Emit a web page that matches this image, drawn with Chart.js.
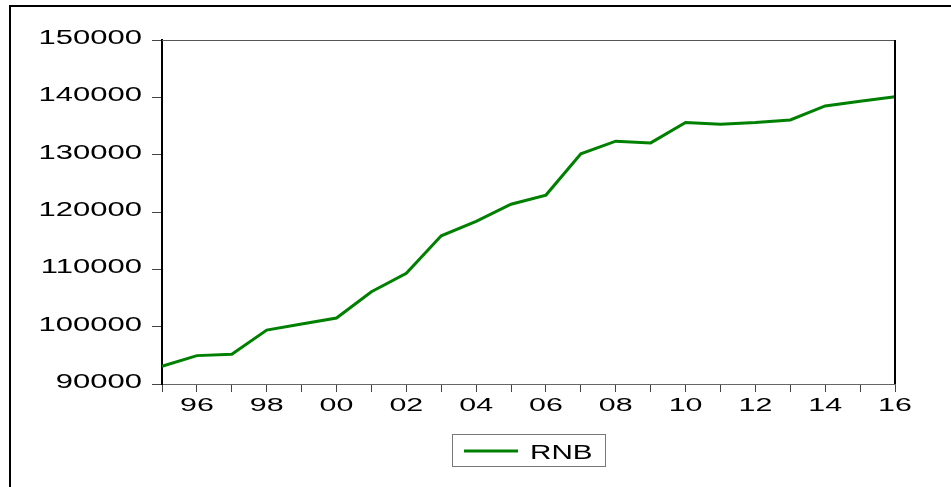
<!DOCTYPE html>
<html>
<head>
<meta charset="utf-8">
<title>RNB</title>
<script src="https://cdn.jsdelivr.net/npm/chart.js@4.4.1/dist/chart.umd.min.js"></script>
<style>
  html, body { margin: 0; padding: 0; background: #fff; }
  #chart { display: block; }
</style>
</head>
<body>
<canvas id="chart" width="951" height="487"></canvas>
<script>
// annees 1995-2016
const years = ['1995', '1996', '1997', '1998', '1999', '2000', '2001', '2002', '2003', '2004', '2005',
               '2006', '2007', '2008', '2009', '2010', '2011', '2012', '2013', '2014', '2015', '2016'];
const rnb = [93100, 94950, 95200, 99400, 100450, 101500, 106100, 109300, 115850, 118350, 121350,
             122950, 130150, 132350, 132050, 135600, 135300, 135600, 136050, 138500, 139300, 140100];
const seriesName = 'RNB';
const yMin = 90000;
const yMax = 150000;
const yStep = 10000;

const FONT = "'Liberation Sans', Arial, sans-serif";

// texte etire horizontalement, comme le graphique d'origine
function stretchText(ctx, text, x, y, align, size, sx) {
    ctx.save();
    ctx.translate(x, y);
    ctx.scale(sx, 1);
    ctx.font = size + 'px ' + FONT;
    ctx.fillStyle = '#000';
    ctx.textAlign = align;
    ctx.textBaseline = 'alphabetic';
    ctx.fillText(text, 0, 0);
    ctx.restore();
}

const decorPlugin = {
    id: 'decor',
    afterDraw(chart) {
        const ctx = chart.ctx;
        const area = chart.chartArea;
        const xs = chart.scales.x;
        const ys = chart.scales.y;

        // cadre du graphique
        ctx.save();
        ctx.fillStyle = '#555';
        ctx.fillRect(area.left, area.top, area.right - area.left, 1);
        ctx.fillStyle = '#000';
        ctx.fillRect(area.right - 1, area.top, 2, area.bottom - area.top);
        // cadre exterieur
        ctx.fillRect(9, 5, chart.width - 9, 2);
        ctx.fillRect(9, 5, 2, chart.height - 5);
        ctx.restore();

        // etiquettes Y
        ys.ticks.forEach(t => {
            const py = ys.getPixelForValue(t.value);
            stretchText(ctx, String(t.value), 142, py + 4, 'right', 20, 1.55);
        });

        // etiquettes X (une annee sur deux)
        xs.ticks.forEach((t, i) => {
            const yr = parseInt(years[t.value], 10);
            if (yr % 2 !== 0) return;
            const px = xs.getPixelForTick(i);
            stretchText(ctx, String(yr % 100).padStart(2, '0'), px, 411, 'center', 19, 1.6);
        });

        // legende
        const ds = chart.data.datasets[0];
        ctx.save();
        ctx.strokeStyle = '#777';
        ctx.lineWidth = 1;
        ctx.strokeRect(452.5, 434.5, 153, 32);
        ctx.strokeStyle = ds.borderColor;
        ctx.lineWidth = 3;
        ctx.beginPath();
        ctx.moveTo(464, 451);
        ctx.lineTo(518, 451);
        ctx.stroke();
        ctx.restore();
        stretchText(ctx, ds.label, 530, 459, 'left', 20, 1.48);
    }
};

const ctx = document.getElementById('chart').getContext('2d');
new Chart(ctx, {
    type: 'line',
    data: {
        labels: years,
        datasets: [{
            label: seriesName,
            data: rnb,
            borderColor: '#008000',
            borderWidth: 3,
            pointRadius: 0,
            tension: 0,
            fill: false
        }]
    },
    options: {
        responsive: false,
        animation: false,
        devicePixelRatio: 1,
        layout: { padding: { left: 0, right: 56, top: 40, bottom: 0 } },
        plugins: {
            legend: { display: false },
            tooltip: { enabled: false }
        },
        scales: {
            x: {
                type: 'category',
                offset: false,
                grid: { drawOnChartArea: false, drawTicks: true, tickLength: 8, color: '#444', lineWidth: 1 },
                border: { display: true, color: '#666', width: 1 },
                ticks: { display: false, autoSkip: false },
                afterFit: s => { s.height = 103; }
            },
            y: {
                min: yMin,
                max: yMax,
                grid: { drawOnChartArea: false, drawTicks: true, tickLength: 10, color: '#444', lineWidth: 1 },
                border: { display: true, color: '#000', width: 2 },
                ticks: { display: false, stepSize: yStep },
                afterFit: s => { s.width = 162; }
            }
        }
    },
    plugins: [decorPlugin]
});
</script>
</body>
</html>
